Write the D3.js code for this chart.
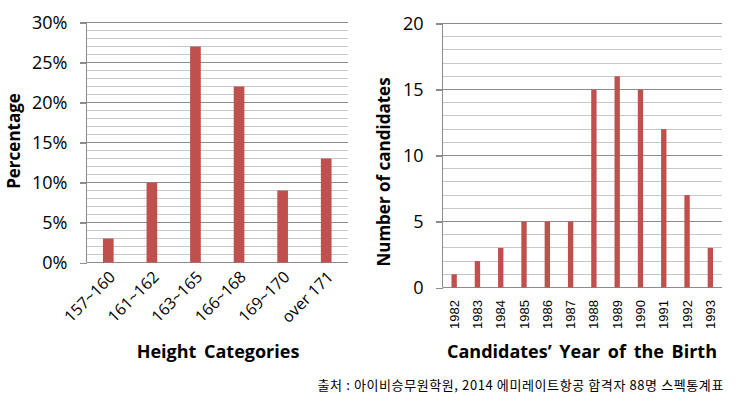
<!DOCTYPE html>
<html><head><meta charset="utf-8">
<script src="https://cdn.jsdelivr.net/npm/d3@7"></script>
<style>body{margin:0;background:#fff}svg{display:block}</style>
</head><body>
<svg id="c" width="740" height="400"></svg>
<script>
const heightCats = ["157~160","161~162","163~165","166~168","169~170","over 171"];
const heightPct = [3,10,27,22,9,13];
const pctTicks = [0,5,10,15,20,25,30];
const years = ["1982","1983","1984","1985","1986","1987","1988","1989","1990","1991","1992","1993"];
const yearCounts = [1,2,3,5,5,5,15,16,15,12,7,3];
const countTicks = [0,5,10,15,20];
const caption = "출처 : 아이비승무원학원, 2014 에미레이트항공 합격자 88명 스펙통계표";

const svg = d3.select("#c");
const barColor = "#C0504D";
const font = "'Open Sans', 'Noto Sans', sans-serif";

function panel(o){
  const g = svg.append("g");
  const x = d3.scaleBand().domain(o.cats).range([o.x0,o.x1]);
  const y = d3.scaleLinear().domain([0,o.max]).range([o.y0,o.y1]);
  g.selectAll(".mg").data(d3.range(1,o.max+1).filter(v=>v%5!==0)).join("line")
    .attr("x1",o.x0).attr("x2",o.x1).attr("y1",d=>y(d)).attr("y2",d=>y(d))
    .attr("stroke","#c8c8c8").attr("stroke-width",1).attr("shape-rendering","crispEdges");
  g.selectAll(".Mg").data(o.ticks.filter(v=>v>0)).join("line")
    .attr("x1",o.x0-7).attr("x2",o.x1).attr("y1",d=>y(d)).attr("y2",d=>y(d))
    .attr("stroke","#8c8c8c").attr("stroke-width",1).attr("shape-rendering","crispEdges");
  const ya = d3.axisLeft(y).tickValues(o.ticks).tickFormat(o.fmt).tickSize(7).tickPadding(12);
  const ag = g.append("g").attr("transform",`translate(${o.x0},0)`).call(ya);
  ag.select(".domain").attr("stroke","#8c8c8c").attr("d",`M0,${o.y0}V${o.y1}`);
  ag.selectAll(".tick line").attr("stroke","#8c8c8c").attr("shape-rendering","crispEdges");
  ag.selectAll(".tick text").attr("font-family",font).attr("font-size",18).attr("fill","#000");
  g.append("line").attr("x1",o.x0).attr("x2",o.x1).attr("y1",o.y0).attr("y2",o.y0)
    .attr("stroke","#8c8c8c").attr("shape-rendering","crispEdges");
  const bw = x.bandwidth()*o.bw;
  g.selectAll(".bar").data(o.vals).join("rect")
    .attr("x",(d,i)=>x(o.cats[i])+x.bandwidth()/2-bw/2)
    .attr("width",bw)
    .attr("y",d=>y(d)).attr("height",d=>o.y0-y(d))
    .attr("fill",barColor);
  return {g,x,y};
}

const L = panel({cats:heightCats, vals:heightPct, ticks:pctTicks, max:30, fmt:d=>d+"%",
  x0:86.5, x1:348, y0:262.5, y1:22.5, bw:0.245});
L.g.selectAll(".xl").data(heightCats).join("text")
  .attr("transform",d=>`translate(${L.x(d)+L.x.bandwidth()/2+8},${278}) rotate(-45)`)
  .attr("text-anchor","end").attr("font-family",font).attr("font-size",16).attr("fill","#000")
  .text(d=>d);
L.g.append("text").attr("x",218).attr("y",358).attr("text-anchor","middle")
  .attr("font-family",font).attr("font-weight","bold").attr("font-size",18).attr("word-spacing",3).text("Height Categories");
L.g.append("text").attr("transform","translate(20,141) rotate(-90)").attr("text-anchor","middle")
  .attr("font-family",font).attr("font-weight","bold").attr("font-size",17).text("Percentage");

const R = panel({cats:years, vals:yearCounts, ticks:countTicks, max:20, fmt:d=>d,
  x0:442.5, x1:722, y0:287.5, y1:23.5, bw:0.23});
R.g.selectAll(".xl").data(years).join("text")
  .attr("transform",d=>`translate(${R.x(d)+R.x.bandwidth()/2+4.5},${300}) rotate(-90)`)
  .attr("text-anchor","end").attr("font-family","'Liberation Sans', Arial, sans-serif").attr("font-size",13).attr("fill","#000")
  .text(d=>d);
R.g.append("text").attr("x",582).attr("y",358).attr("text-anchor","middle")
  .attr("font-family",font).attr("font-weight","bold").attr("font-size",18).attr("word-spacing",3).text("Candidates\u2019 Year of the Birth");
R.g.append("text").attr("transform","translate(390,172) rotate(-90)").attr("text-anchor","middle")
  .attr("font-family",font).attr("font-weight","bold").attr("font-size",17).text("Number of candidates");

svg.append("text").attr("x",724).attr("y",390).attr("text-anchor","end")
  .attr("font-family","'Noto Sans CJK KR', sans-serif").attr("font-size",13).attr("letter-spacing",0.6).attr("fill","#000").text(caption);
</script>
</body></html>
